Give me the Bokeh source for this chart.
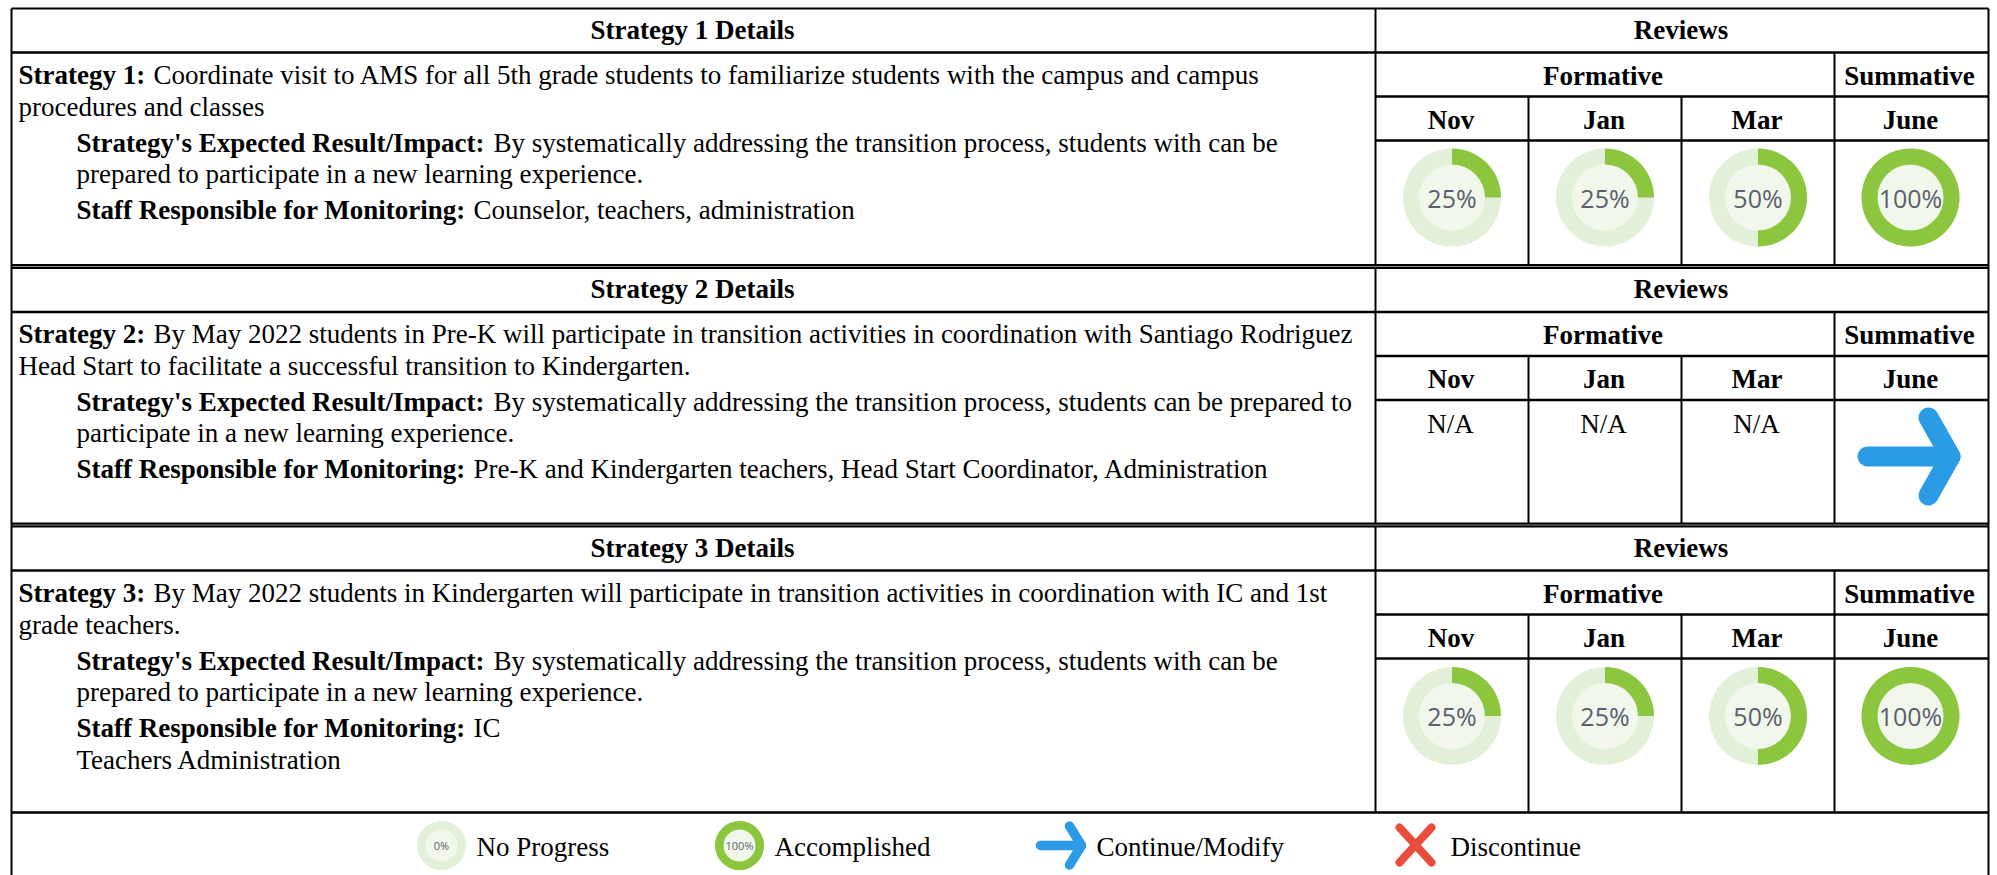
from bokeh.plotting import figure
from bokeh.models import Range1d
from bokeh.core.properties import value
from bokeh.embed import file_html
from bokeh.resources import INLINE
import math

# ---- chart content ----
details_titles = ["Strategy 1 Details", "Strategy 2 Details", "Strategy 3 Details"]
reviews_title = "Reviews"
group_labels = ["Formative", "Summative"]
months = ["Nov", "Jan", "Mar", "June"]

strategy_labels = ["Strategy 1:", "Strategy 2:", "Strategy 3:"]
strategy_line1 = [
    "Coordinate visit to AMS for all 5th grade students to familiarize students with the campus and campus",
    "By May 2022 students in Pre-K will participate in transition activities in coordination with Santiago Rodriguez",
    "By May 2022 students in Kindergarten will participate in transition activities in coordination with IC and 1st",
]
strategy_line2 = [
    "procedures and classes",
    "Head Start to facilitate a successful transition to Kindergarten.",
    "grade teachers.",
]
result_label = "Strategy's Expected Result/Impact:"
result_line1 = [
    "By systematically addressing the transition process, students with can be",
    "By systematically addressing the transition process, students  can be prepared to",
    "By systematically addressing the transition process, students with can be",
]
result_line2 = [
    "prepared to participate in a new learning experience.",
    "participate in a new learning experience.",
    "prepared to participate in a new learning experience.",
]
staff_label = "Staff Responsible for Monitoring:"
staff_line1 = [
    "Counselor, teachers, administration",
    "Pre-K and Kindergarten teachers, Head Start Coordinator, Administration",
    "IC",
]
staff_line2 = ["", "", "Teachers Administration"]

progress_1 = [25, 25, 50, 100]
progress_3 = [25, 25, 50, 100]
na_label = "N/A"

legend_labels = ["No Progress", "Accomplished", "Continue/Modify", "Discontinue"]
legend_progress = [0, 100]

# ---- layout constants ----
W, H = 1997, 875
LEFT, DIV, C1, C2, C3, RIGHT = 11, 1375, 1528, 1681, 1834, 1988
BLOCK_TOPS = [8, 267.5, 526]
BLOCK_BOTTOMS = [264.5, 523, 812]
TEXT_TOPS = [8, 266.5, 526]
GREEN, RING, CORE = "#8cc63f", "#e2f0d9", "#f1f7ea"
BLUE, RED = "#2b9be6", "#e74c3c"
SERIF = "Liberation Serif"
FS = 27.0


def Y(y):
    return H - y


p = figure(width=W, height=H, output_backend="svg", toolbar_location=None,
           x_range=Range1d(0, W), y_range=Range1d(0, H),
           min_border=0, background_fill_color="white", border_fill_color="white",
           outline_line_color=None, tools="")
p.xaxis.visible = False
p.yaxis.visible = False
p.xgrid.visible = False
p.ygrid.visible = False


def seg(x0, y0, x1, y1, w=2.0, c="#000000"):
    p.line([x0, x1], [Y(y0), Y(y1)], line_color=c, line_width=w)


def txt(x, y, s, bold=False, align="left", size=FS, font=SERIF, color="#000000"):
    # y is the wanted baseline; the text is anchored at its middle
    p.text([x], [Y(y - 0.30 * size)], text=[s], text_font=value(font),
           text_font_size=value(f"{size}px"),
           text_font_style="bold" if bold else "normal", text_align=align,
           text_baseline="middle", text_color=color)


def donut(cx, cy, pct, r_out=49, r_in=33, size=25, label_dy=7.5):
    p.circle([cx], [Y(cy)], radius=r_out, fill_color=RING, line_color=None)
    p.circle([cx], [Y(cy)], radius=r_in, fill_color=CORE, line_color=None)
    if pct >= 100:
        p.annulus([cx], [Y(cy)], inner_radius=r_in, outer_radius=r_out,
                  fill_color=GREEN, line_color=None)
    elif pct > 0:
        p.annular_wedge([cx], [Y(cy)], inner_radius=r_in, outer_radius=r_out,
                        start_angle=math.pi / 2 - 2 * math.pi * pct / 100,
                        end_angle=math.pi / 2, direction="anticlock",
                        fill_color=GREEN, line_color=None)
    txt(cx, cy + label_dy, f"{pct}%", align="center", size=size, font="Open Sans", color="#5b5f6e")


def arrow(x0, xt, xb, y, dy, w):
    p.line([x0, xt], [Y(y), Y(y)], line_color=BLUE, line_width=w, line_cap="round")
    p.line([xb, xt, xb], [Y(y - dy), Y(y), Y(y + dy)], line_color=BLUE, line_width=w,
           line_cap="round", line_join="round")


# ---- blocks ----
seg(LEFT, 266, RIGHT, 266, 3, "#888888")
seg(LEFT, 524.5, RIGHT, 524.5, 3, "#888888")
for b, (top, bot, tt) in enumerate(zip(BLOCK_TOPS, BLOCK_BOTTOMS, TEXT_TOPS)):
    h1, h2, h3 = top + 44, top + 88, top + 132
    seg(LEFT, top, RIGHT, top, 2)
    seg(LEFT, h1, RIGHT, h1, 2.5)
    seg(DIV, h2, RIGHT, h2, 2.5)
    seg(DIV, h3, RIGHT, h3, 2.5)
    seg(DIV, top, DIV, bot, 2)
    seg(C3, h1, C3, bot, 2)
    seg(C1, h2, C1, bot, 2)
    seg(C2, h2, C2, bot, 2)
    seg(LEFT, bot, RIGHT, bot, 2.5 if b == 2 else 2)

    tx = -1
    txt((LEFT + DIV) / 2 + tx, tt + 30, details_titles[b], bold=True, align="center")
    txt((DIV + RIGHT) / 2 + tx, tt + 30, reviews_title, bold=True, align="center")
    txt((DIV + C3) / 2 + tx - 1, tt + 76, group_labels[0], bold=True, align="center")
    txt((C3 + RIGHT) / 2 + tx - 1, tt + 76, group_labels[1], bold=True, align="center")
    for m, (a, e) in zip(months, [(DIV, C1), (C1, C2), (C2, C3), (C3, RIGHT)]):
        txt((a + e) / 2 + tx, tt + 120, m, bold=True, align="center")

    txt(18, tt + 75, strategy_labels[b], bold=True)
    txt(153, tt + 75, strategy_line1[b])
    txt(18, tt + 107, strategy_line2[b])
    txt(76, tt + 143, result_label, bold=True)
    txt(493, tt + 143, result_line1[b])
    txt(76, tt + 174, result_line2[b])
    txt(76, tt + 210, staff_label, bold=True)
    txt(473, tt + 210, staff_line1[b])
    if staff_line2[b]:
        txt(76, tt + 242, staff_line2[b])

seg(LEFT, 8, LEFT, H, 2)
seg(RIGHT, 8, RIGHT, H, 2)

centers = [(DIV + C1) / 2, (C1 + C2) / 2, (C2 + C3) / 2, (C3 + RIGHT) / 2 - 1]
for cx, pct in zip(centers, progress_1):
    donut(cx, 197, pct)
for cx, pct in zip(centers, progress_3):
    donut(cx, 715.5, pct)
for cx in centers[:3]:
    txt(cx - 1.5, 432, na_label, align="center")
arrow(1867, 1950, 1928, 456, 39, 20)

# ---- legend ----
LY = 845
donut(441, LY, legend_progress[0], r_out=24.5, r_in=16, size=11, label_dy=3)
txt(476, LY + 10, legend_labels[0])
donut(739, LY, legend_progress[1], r_out=24.5, r_in=16, size=11, label_dy=3)
txt(774, LY + 10, legend_labels[1])
arrow(1040, 1081, 1069, LY, 19.5, 9.5)
txt(1096, LY + 10, legend_labels[2])
p.line([1399, 1431], [Y(LY - 18), Y(LY + 17)], line_color=RED, line_width=8, line_cap="round")
p.line([1431, 1399], [Y(LY - 18), Y(LY + 17)], line_color=RED, line_width=8, line_cap="round")
txt(1450, LY + 10, legend_labels[3])

open("out.html", "w").write(file_html(p, INLINE))
